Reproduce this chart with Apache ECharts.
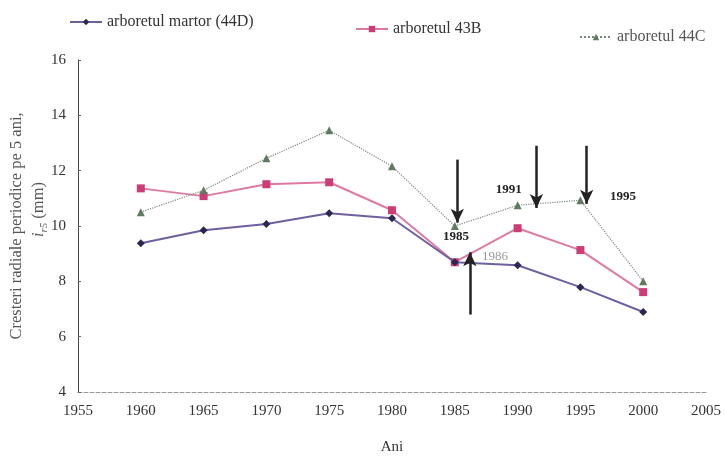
<!DOCTYPE html>
<html>
<head>
<meta charset="utf-8">
<script src="https://cdn.jsdelivr.net/npm/echarts@6/dist/echarts.min.js"></script>
<style>
  html, body { margin: 0; padding: 0; background: #fff; }
  #Chart { width: 725px; height: 456px; }
</style>
</head>
<body>
<div id="Chart"></div>
<script>
var years = [1960, 1965, 1970, 1975, 1980, 1985, 1990, 1995, 2000];
var martor44D = [9.38, 9.85, 10.07, 10.46, 10.28, 8.69, 8.58, 7.79, 6.89];
var arb43B = [11.36, 11.08, 11.51, 11.58, 10.57, 8.69, 9.92, 9.13, 7.61];
var arb44C = [10.5, 11.29, 12.45, 13.46, 12.16, 10.0, 10.75, 10.93, 8.0];

// arrows: [x, yStart, yEnd]
var arrows = [
    [1985.2, 12.4, 10.12],
    [1991.5, 12.9, 10.65],
    [1995.5, 12.9, 10.8],
    [1986.2, 6.8, 9.05]
];
var arrowLabels = [
    ['1985', 1985.1, 9.6],
    ['1991', 1989.3, 11.3],
    ['1995', 1998.4, 11.05],
    ['1986', 1988.2, 8.9]
];

var serif = 'Liberation Serif';

function pairs(xs, ys) {
    return xs.map(function (x, i) { return [x, ys[i]]; });
}

var Chart = echarts.init(document.getElementById('Chart'));

var legendText = { fontFamily: serif, fontSize: 16, color: '#333' };

var ChartOption = {
    textStyle: { fontFamily: serif },
    grid: { left: 78, right: 19, top: 60, bottom: 64, outerBoundsMode: 'none' },
    legend: [
        { data: ['arboretul martor (44D)'], left: 64, top: 9, itemWidth: 32, itemHeight: 8, itemGap: 2,
          textStyle: legendText },
        { data: ['arboretul 43B'], left: 350, top: 16, itemWidth: 32, itemHeight: 8,
          textStyle: legendText },
        { data: ['arboretul 44C'], left: 574, top: 24, itemWidth: 32, itemHeight: 8,
          textStyle: { fontFamily: serif, fontSize: 16, color: '#555' } }
    ],
    xAxis: {
        type: 'value',
        min: 1955,
        max: 2005,
        interval: 5,
        name: 'Ani',
        nameLocation: 'middle',
        nameGap: 48,
        nameTextStyle: { fontFamily: serif, fontSize: 15, color: '#333' },
        axisLine: { lineStyle: { color: '#999', type: 'dashed', width: 1 } },
        axisTick: { show: false },
        splitLine: { show: false },
        axisLabel: {
            fontFamily: serif, fontSize: 15, color: '#333', margin: 12,
            formatter: function (v) { return String(v); }
        }
    },
    yAxis: {
        type: 'value',
        min: 4,
        max: 16,
        interval: 2,
        name: 'Cresteri radiale periodice pe 5 ani,\n        {i|i}{s|r5} (mm)',
        nameLocation: 'middle',
        nameRotate: 90,
        nameGap: 28,
        nameMoveOverlap: false,
        nameTextStyle: {
            fontFamily: serif, fontSize: 16.5, color: '#555', lineHeight: 22,
            rich: {
                i: { fontFamily: serif, fontSize: 16, fontStyle: 'italic', color: '#555' },
                s: { fontFamily: serif, fontSize: 11, fontStyle: 'italic', color: '#555', verticalAlign: 'bottom' }
            }
        },
        axisLine: { show: true, lineStyle: { color: '#444', width: 1 } },
        axisTick: { show: true, inside: true, length: 3, lineStyle: { color: '#666' } },
        splitLine: { show: false },
        axisLabel: { fontFamily: serif, fontSize: 15, color: '#333', margin: 12 }
    },
    series: [
        {
            name: 'arboretul martor (44D)',
            type: 'line',
            data: pairs(years, martor44D),
            symbol: 'diamond',
            symbolSize: 8,
            lineStyle: { color: '#6f5fa0', width: 2 },
            itemStyle: { color: '#2a2850', borderWidth: 0 },
            z: 3
        },
        {
            name: 'arboretul 43B',
            type: 'line',
            data: pairs(years, arb43B),
            symbol: 'rect',
            symbolSize: 8,
            lineStyle: { color: '#de7aa2', width: 2 },
            itemStyle: { color: '#cc3d78', borderWidth: 0 },
            z: 2
        },
        {
            name: 'arboretul 44C',
            type: 'line',
            data: pairs(years, arb44C),
            symbol: 'triangle',
            symbolSize: 8,
            lineStyle: { color: '#7a8a7a', width: 1.2, type: 'dotted' },
            itemStyle: { color: '#5f7a60', borderWidth: 0 },
            z: 2
        },
        {
            name: 'annotations',
            type: 'line',
            data: [],
            silent: true,
            markLine: {
                silent: true,
                symbol: ['none', 'arrow'],
                symbolSize: [10, 14],
                label: { show: false },
                lineStyle: { color: '#222', width: 2.5, type: 'solid' },
                data: arrows.map(function (a) {
                    return [{ coord: [a[0], a[1]] }, { coord: [a[0], a[2]] }];
                })
            },
            markPoint: {
                silent: true,
                symbol: 'circle',
                symbolSize: 0,
                label: {
                    show: true,
                    position: 'inside',
                    fontFamily: serif,
                    fontSize: 13,
                    fontWeight: 'bold',
                    color: '#222',
                    formatter: function (p) { return p.name; }
                },
                data: arrowLabels.map(function (l, i) {
                    var item = { name: l[0], coord: [l[1], l[2]] };
                    if (i === 3) item.label = { color: '#999', fontWeight: 'normal' };
                    return item;
                })
            }
        }
    ]
};

Chart.setOption(ChartOption);
window.addEventListener("resize", function () {
    Chart.resize();
});
</script>
</body>
</html>
